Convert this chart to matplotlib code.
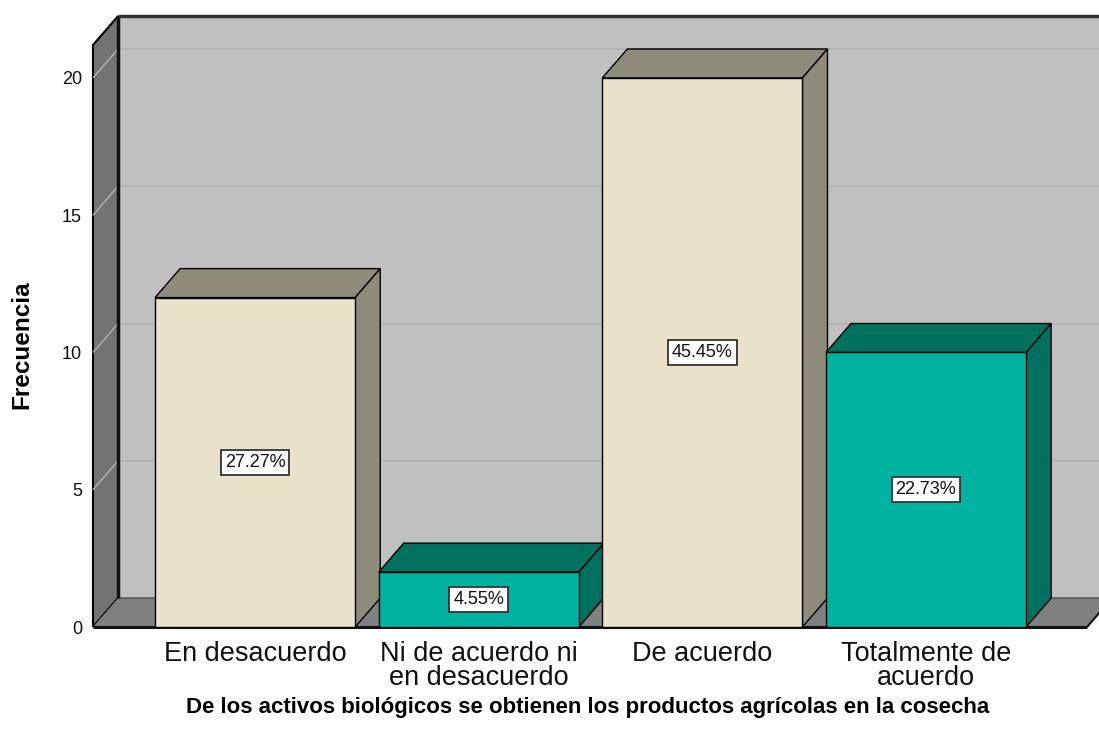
import matplotlib.pyplot as plt
from matplotlib.patches import Polygon, Rectangle

# ------------------------------------------------------------
# Datos
# ------------------------------------------------------------
categorias = ["En desacuerdo", "Ni de acuerdo ni\nen desacuerdo",
              "De acuerdo", "Totalmente de\nacuerdo"]
frecuencias = [12, 2, 20, 10]
porcentajes = ["27.27%", "4.55%", "45.45%", "22.73%"]
y_ticks = [0, 5, 10, 15, 20]

# ------------------------------------------------------------
# Estilo (tipo SPSS 3D)
# ------------------------------------------------------------
plt.rcParams['font.family'] = ['Liberation Sans', 'DejaVu Sans']

colores_frente = ["#e9e3cb", "#00b3a0", "#e9e3cb", "#00b3a0"]
colores_lado = ["#8f8b7b", "#00705f", "#8f8b7b", "#00705f"]
FONDO = "#c0c0c0"
PARED = "#737373"
PISO = "#808080"
GRID_FONDO = "#b2b2b2"
GRID_PARED = "#a8a8a8"

X_MIN, X_MAX = -0.725, 3.72
X_FONDO = 3.95          # la pared de fondo llega hasta el borde
Y_MAX = 21.2
ANCHO = 0.895
DX, DY = 0.112, 1.055   # profundidad (en unidades de datos)

fig = plt.figure(figsize=(10.99, 7.49), dpi=100)
ax = fig.add_axes([93 / 1099, (749 - 627) / 749, (1087 - 93) / 1099, (627 - 45) / 749])
ax.set_xlim(X_MIN, X_MAX)
ax.set_ylim(0, Y_MAX)
ax.set_facecolor("none")
for s in ax.spines.values():
    s.set_visible(False)

def poly(pts, fc, z, lw=1.0, ec="black"):
    p = Polygon(pts, closed=True, facecolor=fc, edgecolor=ec, lw=lw,
                zorder=z, clip_on=False)
    ax.add_patch(p)

def linea(xs, ys, c, lw, z):
    ax.plot(xs, ys, color=c, lw=lw, zorder=z, clip_on=False,
            solid_capstyle="butt")

# pared de fondo
poly([(X_MIN + DX, DY), (X_FONDO, DY), (X_FONDO, Y_MAX + DY),
      (X_MIN + DX, Y_MAX + DY)], FONDO, 0, lw=0, ec="none")
linea([X_MIN + DX, X_FONDO], [Y_MAX + DY, Y_MAX + DY], "#333333", 2.5, 2)

# líneas de cuadrícula
for t in y_ticks[1:]:
    linea([X_MIN + DX, X_FONDO], [t + DY, t + DY], GRID_FONDO, 1.2, 0.5)

# pared izquierda y piso
poly([(X_MIN, 0), (X_MIN + DX, DY), (X_MIN + DX, Y_MAX + DY), (X_MIN, Y_MAX)],
     PARED, 1, lw=1.5)
linea([X_MIN + DX, X_MIN + DX], [DY, Y_MAX + DY], "#111111", 2.5, 1.6)
for t in y_ticks[1:]:
    linea([X_MIN, X_MIN + DX], [t, t + DY], GRID_PARED, 1.2, 1.5)
poly([(X_MIN, 0), (X_MAX, 0), (X_MAX + DX, DY), (X_MIN + DX, DY)], PISO, 1, lw=0,
     ec="none")
linea([X_MIN + DX, X_MAX + DX], [DY, DY], "#5a5a5a", 1.2, 1.2)
linea([X_MIN, X_MAX], [0, 0], "#111111", 2.2, 1.7)
linea([X_MAX, X_MAX + DX], [0, DY], "#111111", 1.5, 1.7)

# barras 3D
for i, (h, fc, sc, lab) in enumerate(zip(frecuencias, colores_frente,
                                         colores_lado, porcentajes)):
    x0, x1 = i - ANCHO / 2, i + ANCHO / 2
    z = 3 + i
    poly([(x0, h), (x1, h), (x1 + DX, h + DY), (x0 + DX, h + DY)], sc, z)
    poly([(x1, 0), (x1 + DX, DY), (x1 + DX, h + DY), (x1, h)], sc, z)
    ax.add_patch(Rectangle((x0, 0), ANCHO, h, facecolor=fc, edgecolor="black",
                           lw=1.0, zorder=z, clip_on=False))
    ax.text(i, h / 2, lab, ha="center", va="center", fontsize=13, zorder=20,
            color="#111111",
            bbox=dict(boxstyle="square,pad=0.22", facecolor="white",
                      edgecolor="#333333", lw=1.3))

ax.set_xticks(range(len(categorias)))
ax.set_xticklabels(categorias, fontsize=19.5, linespacing=0.92, color="#111111")
ax.set_yticks(y_ticks)
ax.set_yticklabels([str(t) for t in y_ticks], fontsize=13, color="#111111")
ax.tick_params(axis="both", length=0)
ax.tick_params(axis="x", pad=10)
ax.tick_params(axis="y", pad=8)

fig.text(22 / 1099, 1 - 345 / 749, "Frecuencia", rotation=90, ha="center",
         va="center", fontsize=17.5, fontweight="bold")
fig.text(588 / 1099, 1 - 708 / 749,
         "De los activos biológicos se obtienen los productos agrícolas en la cosecha",
         ha="center", va="center", fontsize=16, fontweight="bold")

fig.savefig("out.png", dpi=100, facecolor="white")
